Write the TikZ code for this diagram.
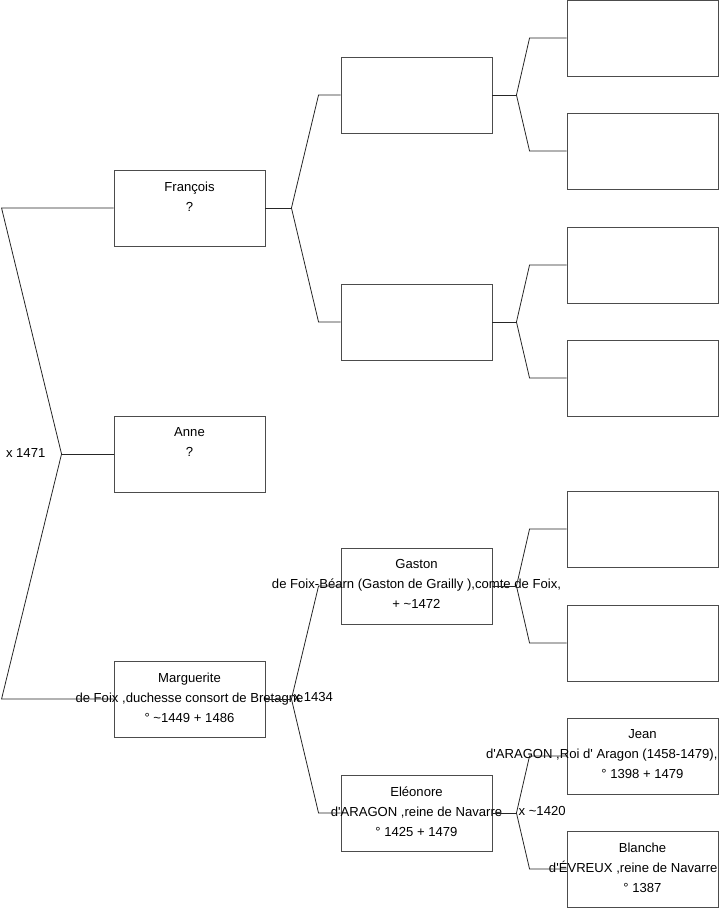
\documentclass[tikz,border=0pt]{standalone}
\usepackage{fontspec}
\setmainfont{Liberation Sans}
\usepackage{tikz}
\usetikzlibrary{positioning, calc}

\begin{document}
\begin{tikzpicture}[
    x=1pt, y=-1pt,
    person/.style={rectangle, minimum width=151pt, minimum height=76pt, draw=black!70, line width=0.9pt, inner sep=0pt},
    who/.style={align=center, inner sep=0pt, font=\fontsize{13.1}{20}\selectfont},
    wed/.style={anchor=west, inner sep=0pt, font=\fontsize{13.1}{15}\selectfont},
    link/.style={line width=0.8pt, black!85}
]
    \useasboundingbox (0,0) rectangle (719,908);

    \node[person] (fran) at (189.5,208) {};
    \node[person] (anne) at (189.5,454) {};
    \node[person] (marg) at (189.5,699) {};

    \node[person] (pat1) at (416.5,95) {};
    \node[person] (pat2) at (416.5,322) {};
    \node[person] (gaston) at (416.5,586) {};
    \node[person] (eleo) at (416.5,813) {};

    \node[person] (g1) at (642.5,38) {};
    \node[person] (g2) at (642.5,151) {};
    \node[person] (g3) at (642.5,265) {};
    \node[person] (g4) at (642.5,378) {};
    \node[person] (gg1) at (642.5,529) {};
    \node[person] (gg2) at (642.5,643) {};
    \node[person] (jean) at (642.5,756) {};
    \node[person] (blanche) at (642.5,869) {};

    \node[who, below=12pt of fran.north] (franT) {François\\?};
    \node[who, below=12pt of anne.north] (anneT) {Anne\\?};
    \node[who, below=12pt of marg.north] (margT) {Marguerite\\de Foix ,duchesse consort de Bretagne\\° \textasciitilde1449 + 1486};
    \node[who, below=12pt of gaston.north] (gastonT) {Gaston\\de Foix-Béarn (Gaston de Grailly ),comte de Foix,\\+ \textasciitilde1472};
    \node[who, below=12pt of eleo.north] (eleoT) {Eléonore\\d\textquotesingle ARAGON ,reine de Navarre\\° 1425 + 1479};
    \node[who, below=12pt of jean.north] (jeanT) {Jean\\\makebox[150pt][r]{d\textquotesingle ARAGON ,Roi d\textquotesingle\ Aragon (1458-1479),}\\° 1398 + 1479};
    \node[who, below=12pt of blanche.north] (blancheT) {Blanche\\\makebox[150pt][r]{d\textquotesingle ÉVREUX ,reine de Navarre}\\° 1387};

    \coordinate (kRoot) at ($(anne.west)+(-52,0)$);
    \coordinate (kFran) at ($(fran.east)+(26,0)$);
    \coordinate (kMarg) at ($(marg.east)+(26,0)$);
    \coordinate (kPat1) at ($(pat1.east)+(24,0)$);
    \coordinate (kPat2) at ($(pat2.east)+(24,0)$);
    \coordinate (kGaston) at ($(gaston.east)+(24,0)$);
    \coordinate (kEleo) at ($(eleo.east)+(24,0)$);

    \node[wed, anchor=east] (wRoot) at ($(kRoot)+(-16,-1)$) {x 1471};
    \node[wed] (wMarg) at ($(kMarg)+(2,-2)$) {x 1434};
    \node[wed] (wEleo) at ($(kEleo)+(2,-2)$) {x \textasciitilde1420};

    \draw[link] (anne.west) -- (kRoot);
    \draw[link] (fran.west) -- ([xshift=-112pt]fran.west) -- (kRoot) -- ([xshift=-112pt]marg.west) -- (marg.west);

    \draw[link] (fran.east) -- (kFran);
    \draw[link] (pat1.west) -- ([xshift=-22pt]pat1.west) -- (kFran) -- ([xshift=-22pt]pat2.west) -- (pat2.west);
    \draw[link] (marg.east) -- (kMarg);
    \draw[link] (gaston.west) -- ([xshift=-22pt]gaston.west) -- (kMarg) -- ([xshift=-22pt]eleo.west) -- (eleo.west);

    \draw[link] (pat1.east) -- (kPat1);
    \draw[link] (g1.west) -- ([xshift=-37pt]g1.west) -- (kPat1) -- ([xshift=-37pt]g2.west) -- (g2.west);
    \draw[link] (pat2.east) -- (kPat2);
    \draw[link] (g3.west) -- ([xshift=-37pt]g3.west) -- (kPat2) -- ([xshift=-37pt]g4.west) -- (g4.west);
    \draw[link] (gaston.east) -- (kGaston);
    \draw[link] (gg1.west) -- ([xshift=-37pt]gg1.west) -- (kGaston) -- ([xshift=-37pt]gg2.west) -- (gg2.west);
    \draw[link] (eleo.east) -- (kEleo);
    \draw[link] (jean.west) -- ([xshift=-37pt]jean.west) -- (kEleo) -- ([xshift=-37pt]blanche.west) -- (blanche.west);

\end{tikzpicture}
\end{document}
